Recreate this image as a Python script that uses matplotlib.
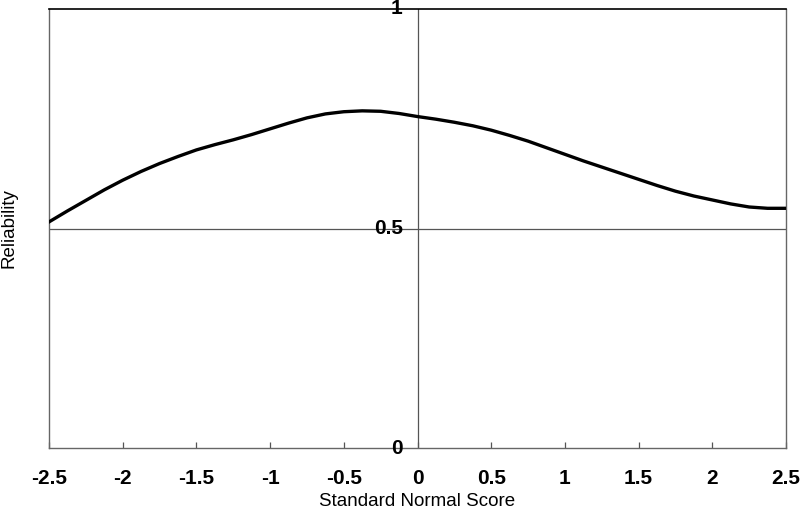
import numpy as np
import matplotlib.pyplot as plt

plt.rcParams.update({'font.family': ['Liberation Sans', 'DejaVu Sans']})

# reliability curve
z = [-2.5, -2.375, -2.25, -2.125, -2.0, -1.875, -1.75, -1.625, -1.5, -1.375,
     -1.25, -1.125, -1.0, -0.875, -0.75, -0.625, -0.5, -0.375, -0.25, -0.125,
     0.0, 0.125, 0.25, 0.375, 0.5, 0.625, 0.75, 0.875, 1.0, 1.125,
     1.25, 1.375, 1.5, 1.625, 1.75, 1.875, 2.0, 2.125, 2.25, 2.375, 2.5]
rel = [0.515, 0.540, 0.564, 0.588, 0.610, 0.630, 0.648, 0.664, 0.679, 0.691,
       0.702, 0.714, 0.727, 0.740, 0.752, 0.761, 0.766, 0.768, 0.767, 0.762,
       0.755, 0.749, 0.742, 0.734, 0.724, 0.712, 0.699, 0.684, 0.669, 0.654,
       0.640, 0.626, 0.612, 0.598, 0.585, 0.574, 0.565, 0.556, 0.549, 0.546, 0.546]

xticks = [-2.5, -2, -1.5, -1, -0.5, 0, 0.5, 1, 1.5, 2, 2.5]
xticklabels = ['-2.5', '-2', '-1.5', '-1', '-0.5', '0', '0.5', '1', '1.5', '2', '2.5']
yticks = [0, 0.5, 1]
yticklabels = ['0', '0.5', '1']

fig = plt.figure(figsize=(8, 5.09), dpi=100)
ax = fig.add_axes([49/800, 61/509, 737/800, 439/509])

ax.plot(z, rel, color='black', lw=2.4, solid_joinstyle='round', zorder=3)

# cross-hair lines through the centre of the chart
ax.axvline(0, color='#555555', lw=0.9, zorder=2)
ax.axhline(0.5, color='#555555', lw=0.9, zorder=2)

ax.set_xlim(-2.5, 2.5)
ax.set_ylim(0, 1)

for s in ['left', 'right', 'bottom']:
    ax.spines[s].set_color('#666666')
    ax.spines[s].set_linewidth(1.0)
ax.spines['top'].set_color('black')
ax.spines['top'].set_linewidth(1.2)

ax.set_xticks(xticks)
ax.set_xticklabels(xticklabels, fontsize=15, fontweight='bold')
ax.tick_params(axis='x', direction='in', length=4, width=0.9, color='#555555', pad=15)
ax.set_yticks([])

# y labels sit next to the vertical centre line
for v, lab in zip(yticks, yticklabels):
    ax.text(-0.1, v, lab, ha='right', va='center', fontsize=15, fontweight='bold',
            clip_on=False)

ax.set_xlabel('Standard Normal Score', fontsize=13.5, labelpad=4)
ax.set_ylabel('Reliability', fontsize=13.5)
ax.yaxis.set_label_coords(-0.043, 0.5)

fig.savefig('out.png', dpi=100)
